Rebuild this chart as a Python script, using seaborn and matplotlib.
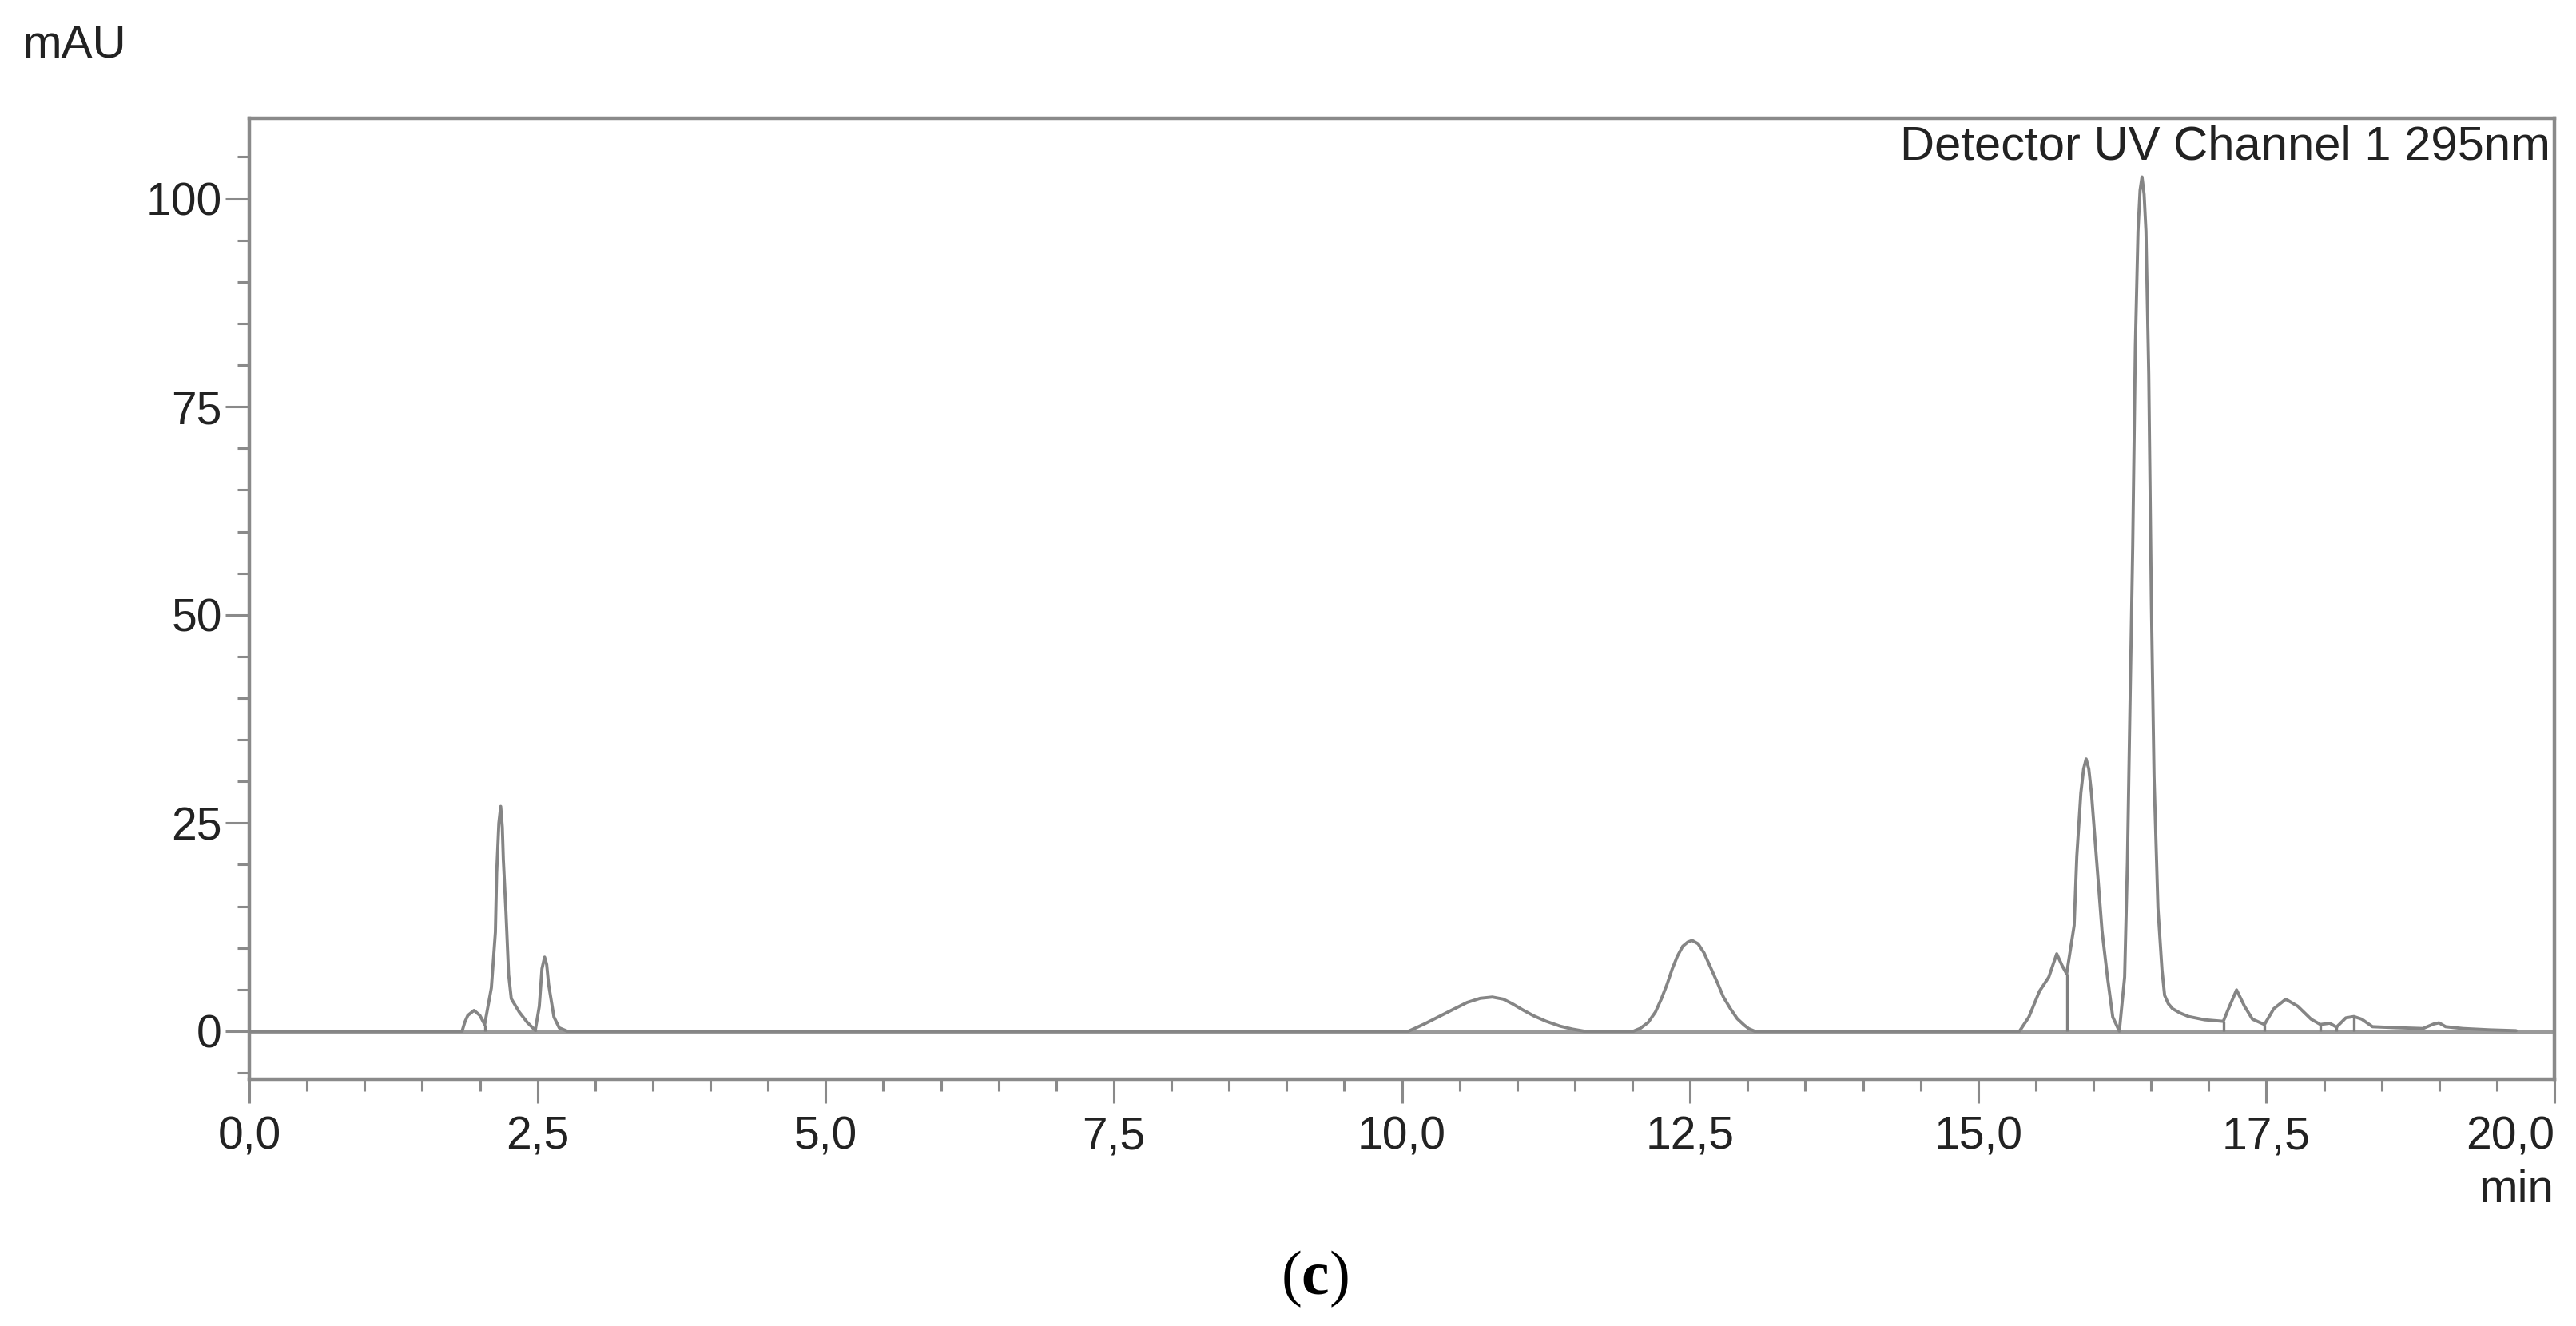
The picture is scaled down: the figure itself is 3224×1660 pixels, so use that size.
import matplotlib
matplotlib.use('Agg')
import matplotlib.pyplot as plt
import seaborn as sns
import numpy as np
from matplotlib.ticker import MultipleLocator

# ============================================
# data (min, mAU)
# ============================================
time_min = [0.0, 1.846, 1.870, 1.896, 1.950, 2.000, 2.042, 2.100, 2.135, 2.146, 2.165, 2.181,
            2.195, 2.204, 2.227, 2.250, 2.273, 2.342, 2.412, 2.481, 2.516, 2.539, 2.562,
            2.580, 2.597, 2.643, 2.689, 2.758,
            10.058, 10.130, 10.200, 10.335, 10.450, 10.566, 10.680, 10.785, 10.880, 10.958,
            11.050, 11.143, 11.250, 11.374, 11.480, 11.582,
            12.010, 12.070, 12.137, 12.200, 12.252, 12.300, 12.345, 12.390, 12.437, 12.480,
            12.518, 12.570, 12.622, 12.680, 12.737, 12.790, 12.853, 12.910, 12.969, 13.010, 13.061,
            15.359, 15.440, 15.532, 15.613, 15.682, 15.728, 15.768, 15.833, 15.856, 15.891,
            15.915, 15.937, 15.960, 15.983, 16.029, 16.075, 16.122, 16.168, 16.225, 16.271,
            16.295, 16.318, 16.341, 16.364, 16.387, 16.405, 16.422, 16.440, 16.456, 16.480,
            16.503, 16.526, 16.560, 16.595, 16.618, 16.650, 16.687, 16.750, 16.826, 16.965,
            17.127, 17.172, 17.242, 17.311, 17.380, 17.484, 17.565, 17.669, 17.773, 17.889,
            17.970, 18.051, 18.109, 18.190, 18.260, 18.329, 18.421, 18.628, 18.859, 18.952,
            18.998, 19.056, 19.206, 19.437, 19.667]
signal_mau = [0.0, 0.0, 1.1, 1.9, 2.5, 1.9, 0.8, 5.2, 11.9, 19.0, 25.0, 27.0,
              24.5, 20.6, 14.2, 6.8, 3.9, 2.3, 1.05, 0.1, 3.0, 7.5, 8.9,
              8.0, 5.6, 1.7, 0.4, 0.0,
              0.0, 0.45, 0.9, 1.85, 2.65, 3.45, 3.95, 4.1, 3.85, 3.3,
              2.55, 1.85, 1.2, 0.6, 0.25, 0.0,
              0.0, 0.35, 1.05, 2.3, 3.9, 5.6, 7.45, 9.0, 10.2, 10.7,
              10.9, 10.5, 9.4, 7.6, 5.85, 4.1, 2.65, 1.5, 0.74, 0.3, 0.0,
              0.0, 1.7, 4.8, 6.5, 9.3, 7.9, 6.9, 12.7, 21.0, 28.6,
              31.5, 32.7, 31.5, 28.6, 20.3, 12.05, 6.5, 1.7, 0.0, 6.5,
              20.3, 39.6, 58.2, 82.3, 96.1, 101.0, 102.6, 100.5, 96.1, 78.9,
              51.3, 30.6, 14.8, 7.4, 4.3, 3.3, 2.7, 2.2, 1.76, 1.37,
              1.18, 2.7, 4.96, 3.0, 1.44, 0.8, 2.7, 3.84, 3.0, 1.44,
              0.8, 0.96, 0.48, 1.6, 1.76, 1.44, 0.54, 0.42, 0.32, 0.86,
              1.0, 0.54, 0.32, 0.16, 0.06]

# peak separation (drop) lines
drop_times = [2.042, 2.481, 15.768, 17.127, 17.484, 17.970, 18.109, 18.260]
drop_heights = [0.8, 0.1, 6.9, 1.18, 0.8, 0.8, 0.48, 1.76]

x_ticks = [0.0, 2.5, 5.0, 7.5, 10.0, 12.5, 15.0, 17.5, 20.0]
x_tick_labels = ['0,0', '2,5', '5,0', '7,5', '10,0', '12,5', '15,0', '17,5', '20,0']
y_ticks = [0, 25, 50, 75, 100]
y_tick_labels = ['0', '25', '50', '75', '100']

# ============================================
# style
# ============================================
sns.set_theme(style='white')
plt.rcParams['font.family'] = ['Liberation Sans', 'DejaVu Sans']
plt.rcParams['mathtext.fontset'] = 'custom'
plt.rcParams['mathtext.rm'] = 'Liberation Serif'
plt.rcParams['mathtext.bf'] = 'Liberation Serif:bold'

frame_col = '#8a8a8a'
text_col = '#222222'

fig = plt.figure(figsize=(32.24, 16.60), dpi=100)
ax = fig.add_axes([312 / 3224, 309 / 1660, (3197 - 312) / 3224, (1351 - 148) / 1660])

ax.axhline(0, color='#9a9a9a', lw=3.6, zorder=1)
sns.lineplot(x=time_min, y=signal_mau, ax=ax, color='#858585', lw=2.8,
             sort=False, estimator=None, zorder=3)
ax.vlines(drop_times, 0, drop_heights, color='#808080', lw=2.4, zorder=3)

ax.set_xlim(0, 20.0)
ax.set_ylim(-5.76, 109.65)

ax.set_xticks(x_ticks, x_tick_labels)
ax.set_yticks(y_ticks, y_tick_labels)
ax.xaxis.set_minor_locator(MultipleLocator(0.5))
ax.yaxis.set_minor_locator(MultipleLocator(5))
ax.tick_params(axis='both', which='both', direction='out', colors=frame_col,
               labelcolor=text_col, labelsize=41, bottom=True, left=True,
               top=False, right=False)
ax.tick_params(axis='both', which='major', length=21.5, width=2.2)
ax.tick_params(axis='both', which='minor', length=10.5, width=2.2)
ax.tick_params(axis='x', which='major', pad=11)
ax.tick_params(axis='y', which='major', pad=3)
ax.get_xticklabels()[-1].set_horizontalalignment('right')

for s in ax.spines.values():
    s.set_color(frame_col)
    s.set_linewidth(3.2)

ax.set_xlabel('')
ax.set_ylabel('')

fig.text(28 / 3224, 1 - 72 / 1660, 'mAU', fontsize=42, color=text_col,
         ha='left', va='baseline')
fig.text(3192 / 3224, 1 - 200 / 1660, 'Detector UV Channel 1 295nm', fontsize=43,
         color=text_col, ha='right', va='baseline')
fig.text(3196 / 3224, 1 - 1505 / 1660, 'min', fontsize=42, color=text_col,
         ha='right', va='baseline')
fig.text(1645 / 3224, 1 - 1601 / 1660, r'($\mathbf{c}$)', fontsize=56,
         family='Liberation Serif', color='black', ha='center', va='center')

fig.savefig('out.png', dpi=100)
plt.close(fig)
